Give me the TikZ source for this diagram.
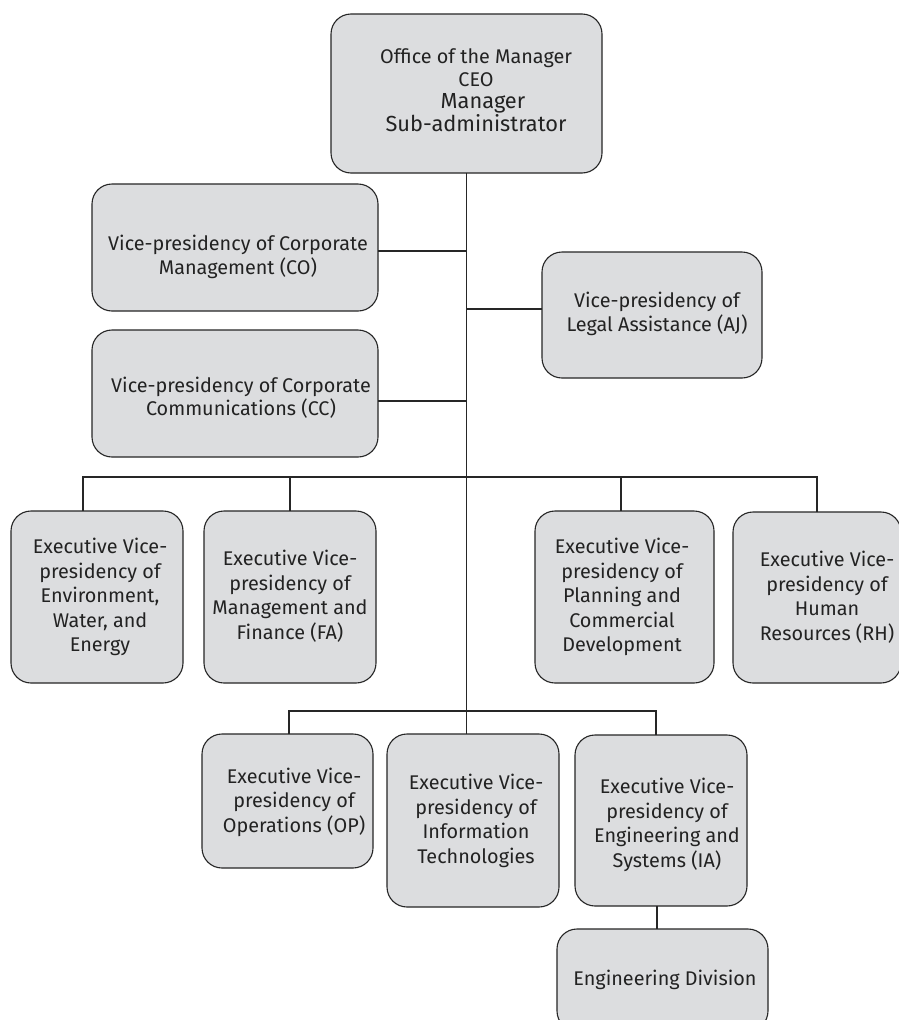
\documentclass[tikz,border=0pt]{standalone}
\usepackage{fontspec}
\setmainfont{Fira Sans}
\definecolor{boxfill}{HTML}{DCDDDF}
\definecolor{txt}{HTML}{222222}
\definecolor{edge}{HTML}{262626}
\begin{document}
\begin{tikzpicture}[x=1pt,y=-1pt,
  box/.style={draw=edge, line width=1.1pt, fill=boxfill, rounded corners=20pt, inner sep=0pt, outer sep=0pt, rectangle},
  lbl/.style={align=center, text=txt, inner sep=0pt, font=\fontsize{19.8}{24.5}\selectfont},
  conn/.style={draw=edge, line width=1.1pt}]
\useasboundingbox (0,0) rectangle (898,1020);
\fill[white] (0,0) rectangle (898,1020);

% boxes
\node[box, minimum width=271pt, minimum height=159pt] (top) at (466.5,93.5) {};
\node[box, minimum width=286pt, minimum height=127pt] (CO) at (235,247.5) {};
\node[box, minimum width=220pt, minimum height=126pt] (AJ) at (652,315) {};
\node[box, minimum width=286pt, minimum height=127pt] (CC) at (235,393.5) {};
\node[box, minimum width=172pt, minimum height=172pt] (Env) at (97,597) {};
\node[box, minimum width=172pt, minimum height=172pt] (FA) at (290,597) {};
\node[box, minimum width=179pt, minimum height=172pt] (Plan) at (624.5,597) {};
\node[box, minimum width=168pt, minimum height=171pt] (HR) at (817,597.5) {};
\node[box, minimum width=171pt, minimum height=134pt] (OP) at (287.5,801) {};
\node[box, minimum width=172pt, minimum height=173pt] (IT) at (473,820.5) {};
\node[box, minimum width=172pt, minimum height=171pt] (IA) at (661,820.5) {};
\node[box, minimum width=211pt, minimum height=102pt] (Eng) at (662.5,980) {};

% texts
\node[lbl, font=\fontsize{19.8}{22.5}\selectfont] (topT) at (476,90) {Office of the Manager\\CEO\hspace{8pt}\\\hspace{14pt}{\fontsize{21.8}{22.5}\selectfont Manager}\\{\fontsize{21.8}{22.5}\selectfont Sub-administrator}};
\node[lbl, font=\fontsize{19.8}{23.3}\selectfont] (COT) at (238,257) {Vice-presidency of Corporate\\Management (CO)};
\node[lbl, font=\fontsize{19.8}{23.3}\selectfont] (AJT) at (657,314) {Vice-presidency of\\Legal Assistance (AJ)};
\node[lbl, font=\fontsize{19.8}{23.3}\selectfont] (CCT) at (241,398) {Vice-presidency of Corporate\\Communications (CC)};
\node[lbl] (EnvT) at (100,597) {Executive Vice-\\presidency of\\Environment,\\Water, and\\Energy};
\node[lbl] (FAT) at (290,596) {Executive Vice-\\presidency of\\Management and\\Finance (FA)};
\node[lbl] (PlanT) at (622,597) {Executive Vice-\\presidency of\\Planning and\\Commercial\\Development};
\node[lbl] (HRT) at (827,597) {Executive Vice-\\presidency of\\Human\\Resources (RH)};
\node[lbl] (OPT) at (294,802) {Executive Vice-\\presidency of\\Operations (OP)};
\node[lbl] (ITT) at (476,821) {Executive Vice-\\presidency of\\Information\\Technologies};
\node[lbl] (IAT) at (667,825) {Executive Vice-\\presidency of\\Engineering and\\Systems (IA)};
\node[lbl] (EngT) at (665,980) {Engineering Division};

% connectors
\coordinate (b1) at (466.5,477);
\coordinate (b2) at (466.5,711);
\draw[conn] (top.south) -- (top.south |- IT.north);
\draw[conn] ([yshift=-3.5pt]CO.east) -- ([yshift=-3.5pt]CO.east -| top.south);
\draw[conn] ([yshift=6pt]AJ.west) -- ([yshift=6pt]AJ.west -| top.south);
\draw[conn] ([yshift=-7.5pt]CC.east) -- ([yshift=-7.5pt]CC.east -| top.south);
\draw[conn] ([xshift=-14pt]Env.north) |- (b1) -| (HR.north);
\draw[conn] (FA.north) -- (FA.north |- b1);
\draw[conn] ([xshift=-3.5pt]Plan.north) -- ([xshift=-3.5pt]Plan.north |- b1);
\draw[conn] ([xshift=1.5pt]OP.north) |- (b2) -| ([xshift=-5pt]IA.north);
\draw[conn] ([xshift=-4pt]IA.south) -- ([xshift=-4pt]IA.south |- Eng.north);
\end{tikzpicture}
\end{document}
